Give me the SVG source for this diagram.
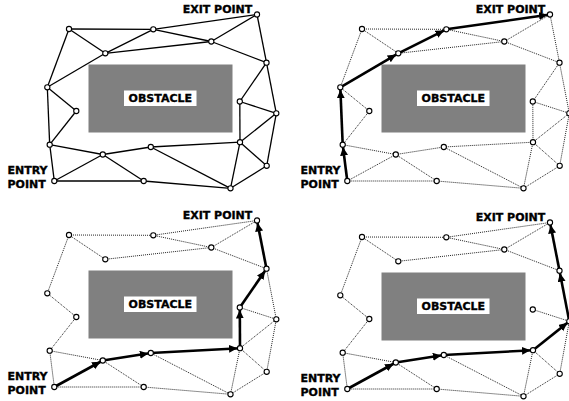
<svg xmlns="http://www.w3.org/2000/svg" xmlns:xlink="http://www.w3.org/1999/xlink" width="569" height="401" viewBox="0 0 569 401">
  <style>
    .bg { fill: #ffffff; }
    .obstacle { fill: #808080; }
    .tag { fill: #ffffff; }
    .label { font-family: "DejaVu Sans", "Liberation Sans", sans-serif; font-weight: bold; font-size: 11px; fill: #000000; stroke: #000000; stroke-width: 0.35; }
    .solid line { stroke: #000000; stroke-width: 1.3; fill: none; }
    .dotted line { stroke: #222222; stroke-width: 1; stroke-dasharray: 1 1; fill: none; }
    .route line { stroke: #000000; stroke-width: 2.6; fill: none; marker-end: url(#arrow); }
    .node circle { fill: #ffffff; stroke: #000000; stroke-width: 1.1; }
  </style>
  <defs>
    <marker id="arrow" markerUnits="userSpaceOnUse" markerWidth="14" markerHeight="10" viewBox="0 0 14 10" refX="11" refY="4" orient="auto">
      <path d="M0,0 L8.5,4 L0,8 Z" fill="#000000"/>
    </marker>
    <!-- obstacle block with its tag, shared by all four panels -->
    <g id="obstacle-block">
      <rect class="obstacle" x="88.5" y="64.5" width="144" height="68"/>
      <rect class="tag" x="124" y="90.5" width="72.5" height="15.5"/>
      <text class="label" x="160.3" y="102.3" text-anchor="middle">OBSTACLE</text>
    </g>
    <g id="end-labels">
      <text class="label" x="182.7" y="12.7">EXIT POINT</text>
      <text class="label" x="7.5" y="174">ENTRY</text>
      <text class="label" x="7.5" y="187.5">POINT</text>
    </g>
  </defs>

  <rect class="bg" x="0" y="0" width="569" height="401"/>

  <!-- Panel 1: full roadmap -->
  <g id="panel-1">
    <use xlink:href="#obstacle-block"/>
    <use xlink:href="#end-labels"/>
    <g id="p1-connectors" class="solid">
      <line x1="69" y1="29" x2="153.3" y2="29.3"/>
      <line x1="69" y1="29" x2="105.3" y2="53.3"/>
      <line x1="69" y1="29" x2="47.3" y2="87.3"/>
      <line x1="153.3" y1="29.3" x2="105.3" y2="53.3"/>
      <line x1="153.3" y1="29.3" x2="211.3" y2="41.5"/>
      <line x1="153.3" y1="29.3" x2="257" y2="14.5"/>
      <line x1="105.3" y1="53.3" x2="211.3" y2="41.5"/>
      <line x1="105.3" y1="53.3" x2="47.3" y2="87.3"/>
      <line x1="211.3" y1="41.5" x2="257" y2="14.5"/>
      <line x1="211.3" y1="41.5" x2="266.5" y2="62.7"/>
      <line x1="257" y1="14.5" x2="266.5" y2="62.7"/>
      <line x1="47.3" y1="87.3" x2="76.3" y2="111"/>
      <line x1="47.3" y1="87.3" x2="49.7" y2="144.7"/>
      <line x1="76.3" y1="111" x2="49.7" y2="144.7"/>
      <line x1="49.7" y1="144.7" x2="102.8" y2="154.5"/>
      <line x1="49.7" y1="144.7" x2="54.3" y2="181"/>
      <line x1="54.3" y1="181" x2="102.8" y2="154.5"/>
      <line x1="54.3" y1="181" x2="143.7" y2="181"/>
      <line x1="102.8" y1="154.5" x2="150.8" y2="147"/>
      <line x1="102.8" y1="154.5" x2="143.7" y2="181"/>
      <line x1="150.8" y1="147" x2="240" y2="142.2"/>
      <line x1="150.8" y1="147" x2="230.5" y2="188.3"/>
      <line x1="143.7" y1="181" x2="230.5" y2="188.3"/>
      <line x1="240" y1="142.2" x2="230.5" y2="188.3"/>
      <line x1="240" y1="142.2" x2="266.7" y2="165.8"/>
      <line x1="266.7" y1="165.8" x2="230.5" y2="188.3"/>
      <line x1="240" y1="142.2" x2="239.8" y2="101.5"/>
      <line x1="240" y1="142.2" x2="276.3" y2="113.3"/>
      <line x1="239.8" y1="101.5" x2="276.3" y2="113.3"/>
      <line x1="239.8" y1="101.5" x2="266.5" y2="62.7"/>
      <line x1="266.5" y1="62.7" x2="276.3" y2="113.3"/>
      <line x1="276.3" y1="113.3" x2="266.7" y2="165.8"/>
    </g>
    <g id="p1-A" class="node"><circle cx="69" cy="29" r="2.6"/></g>
    <g id="p1-B" class="node"><circle cx="153.3" cy="29.3" r="2.6"/></g>
    <g id="p1-C" class="node"><circle cx="257" cy="14.5" r="2.6"/></g>
    <g id="p1-D" class="node"><circle cx="211.3" cy="41.5" r="2.6"/></g>
    <g id="p1-E" class="node"><circle cx="105.3" cy="53.3" r="2.6"/></g>
    <g id="p1-F" class="node"><circle cx="266.5" cy="62.7" r="2.6"/></g>
    <g id="p1-G" class="node"><circle cx="47.3" cy="87.3" r="2.6"/></g>
    <g id="p1-H" class="node"><circle cx="76.3" cy="111" r="2.6"/></g>
    <g id="p1-I" class="node"><circle cx="239.8" cy="101.5" r="2.6"/></g>
    <g id="p1-J" class="node"><circle cx="276.3" cy="113.3" r="2.6"/></g>
    <g id="p1-K" class="node"><circle cx="49.7" cy="144.7" r="2.6"/></g>
    <g id="p1-L" class="node"><circle cx="150.8" cy="147" r="2.6"/></g>
    <g id="p1-M" class="node"><circle cx="240" cy="142.2" r="2.6"/></g>
    <g id="p1-N" class="node"><circle cx="102.8" cy="154.5" r="2.6"/></g>
    <g id="p1-O" class="node"><circle cx="266.7" cy="165.8" r="2.6"/></g>
    <g id="p1-P" class="node"><circle cx="54.3" cy="181" r="2.6"/></g>
    <g id="p1-Q" class="node"><circle cx="143.7" cy="181" r="2.6"/></g>
    <g id="p1-R" class="node"><circle cx="230.5" cy="188.3" r="2.6"/></g>
  </g>

  <!-- Panel 2: route along the upper side -->
  <g id="panel-2" transform="translate(293,0)">
    <use xlink:href="#obstacle-block"/>
    <use xlink:href="#end-labels"/>
    <g id="p2-connectors">
      <g class="dotted">
        <line x1="69" y1="29" x2="153.3" y2="29.3"/>
        <line x1="69" y1="29" x2="105.3" y2="53.3"/>
        <line x1="69" y1="29" x2="47.3" y2="87.3"/>
        <line x1="153.3" y1="29.3" x2="211.3" y2="41.5"/>
        <line x1="105.3" y1="53.3" x2="211.3" y2="41.5"/>
        <line x1="211.3" y1="41.5" x2="257" y2="14.5"/>
        <line x1="211.3" y1="41.5" x2="266.5" y2="62.7"/>
        <line x1="257" y1="14.5" x2="266.5" y2="62.7"/>
        <line x1="47.3" y1="87.3" x2="76.3" y2="111"/>
        <line x1="76.3" y1="111" x2="49.7" y2="144.7"/>
        <line x1="49.7" y1="144.7" x2="102.8" y2="154.5"/>
        <line x1="54.3" y1="181" x2="102.8" y2="154.5"/>
        <line x1="54.3" y1="181" x2="143.7" y2="181"/>
        <line x1="102.8" y1="154.5" x2="150.8" y2="147"/>
        <line x1="102.8" y1="154.5" x2="143.7" y2="181"/>
        <line x1="150.8" y1="147" x2="240" y2="142.2"/>
        <line x1="150.8" y1="147" x2="230.5" y2="188.3"/>
        <line x1="143.7" y1="181" x2="230.5" y2="188.3"/>
        <line x1="240" y1="142.2" x2="230.5" y2="188.3"/>
        <line x1="240" y1="142.2" x2="266.7" y2="165.8"/>
        <line x1="266.7" y1="165.8" x2="230.5" y2="188.3"/>
        <line x1="240" y1="142.2" x2="239.8" y2="101.5"/>
        <line x1="240" y1="142.2" x2="276.3" y2="113.3"/>
        <line x1="239.8" y1="101.5" x2="276.3" y2="113.3"/>
        <line x1="239.8" y1="101.5" x2="266.5" y2="62.7"/>
        <line x1="266.5" y1="62.7" x2="276.3" y2="113.3"/>
        <line x1="276.3" y1="113.3" x2="266.7" y2="165.8"/>
      </g>
      <g class="route">
        <line x1="54.3" y1="181" x2="49.7" y2="144.7"/>
        <line x1="49.7" y1="144.7" x2="47.3" y2="87.3"/>
        <line x1="47.3" y1="87.3" x2="105.3" y2="53.3"/>
        <line x1="105.3" y1="53.3" x2="153.3" y2="29.3"/>
        <line x1="153.3" y1="29.3" x2="257" y2="14.5"/>
      </g>
    </g>
    <g id="p2-A" class="node"><circle cx="69" cy="29" r="2.6"/></g>
    <g id="p2-B" class="node"><circle cx="153.3" cy="29.3" r="2.6"/></g>
    <g id="p2-C" class="node"><circle cx="257" cy="14.5" r="2.6"/></g>
    <g id="p2-D" class="node"><circle cx="211.3" cy="41.5" r="2.6"/></g>
    <g id="p2-E" class="node"><circle cx="105.3" cy="53.3" r="2.6"/></g>
    <g id="p2-F" class="node"><circle cx="266.5" cy="62.7" r="2.6"/></g>
    <g id="p2-G" class="node"><circle cx="47.3" cy="87.3" r="2.6"/></g>
    <g id="p2-H" class="node"><circle cx="76.3" cy="111" r="2.6"/></g>
    <g id="p2-I" class="node"><circle cx="239.8" cy="101.5" r="2.6"/></g>
    <g id="p2-J" class="node"><circle cx="276.3" cy="113.3" r="2.6"/></g>
    <g id="p2-K" class="node"><circle cx="49.7" cy="144.7" r="2.6"/></g>
    <g id="p2-L" class="node"><circle cx="150.8" cy="147" r="2.6"/></g>
    <g id="p2-M" class="node"><circle cx="240" cy="142.2" r="2.6"/></g>
    <g id="p2-N" class="node"><circle cx="102.8" cy="154.5" r="2.6"/></g>
    <g id="p2-O" class="node"><circle cx="266.7" cy="165.8" r="2.6"/></g>
    <g id="p2-P" class="node"><circle cx="54.3" cy="181" r="2.6"/></g>
    <g id="p2-Q" class="node"><circle cx="143.7" cy="181" r="2.6"/></g>
    <g id="p2-R" class="node"><circle cx="230.5" cy="188.3" r="2.6"/></g>
  </g>

  <!-- Panel 3: left links removed, route goes round the lower right -->
  <g id="panel-3" transform="translate(0,206)">
    <use xlink:href="#obstacle-block"/>
    <use xlink:href="#end-labels"/>
    <g id="p3-connectors">
      <g class="dotted">
        <line x1="69" y1="29" x2="153.3" y2="29.3"/>
        <line x1="69" y1="29" x2="105.3" y2="53.3"/>
        <line x1="69" y1="29" x2="47.3" y2="87.3"/>
        <line x1="153.3" y1="29.3" x2="211.3" y2="41.5"/>
        <line x1="153.3" y1="29.3" x2="257" y2="14.5"/>
        <line x1="105.3" y1="53.3" x2="211.3" y2="41.5"/>
        <line x1="211.3" y1="41.5" x2="257" y2="14.5"/>
        <line x1="211.3" y1="41.5" x2="266.5" y2="62.7"/>
        <line x1="47.3" y1="87.3" x2="76.3" y2="111"/>
        <line x1="76.3" y1="111" x2="49.7" y2="144.7"/>
        <line x1="49.7" y1="144.7" x2="102.8" y2="154.5"/>
        <line x1="49.7" y1="144.7" x2="54.3" y2="181"/>
        <line x1="54.3" y1="181" x2="143.7" y2="181"/>
        <line x1="102.8" y1="154.5" x2="143.7" y2="181"/>
        <line x1="150.8" y1="147" x2="230.5" y2="188.3"/>
        <line x1="143.7" y1="181" x2="230.5" y2="188.3"/>
        <line x1="240" y1="142.2" x2="230.5" y2="188.3"/>
        <line x1="240" y1="142.2" x2="266.7" y2="165.8"/>
        <line x1="266.7" y1="165.8" x2="230.5" y2="188.3"/>
        <line x1="240" y1="142.2" x2="276.3" y2="113.3"/>
        <line x1="239.8" y1="101.5" x2="276.3" y2="113.3"/>
        <line x1="266.5" y1="62.7" x2="276.3" y2="113.3"/>
        <line x1="276.3" y1="113.3" x2="266.7" y2="165.8"/>
      </g>
      <g class="route">
        <line x1="54.3" y1="181" x2="102.8" y2="154.5"/>
        <line x1="102.8" y1="154.5" x2="150.8" y2="147"/>
        <line x1="150.8" y1="147" x2="240" y2="142.2"/>
        <line x1="240" y1="142.2" x2="239.8" y2="101.5"/>
        <line x1="239.8" y1="101.5" x2="266.5" y2="62.7"/>
        <line x1="266.5" y1="62.7" x2="257" y2="14.5"/>
      </g>
    </g>
    <g id="p3-A" class="node"><circle cx="69" cy="29" r="2.6"/></g>
    <g id="p3-B" class="node"><circle cx="153.3" cy="29.3" r="2.6"/></g>
    <g id="p3-C" class="node"><circle cx="257" cy="14.5" r="2.6"/></g>
    <g id="p3-D" class="node"><circle cx="211.3" cy="41.5" r="2.6"/></g>
    <g id="p3-E" class="node"><circle cx="105.3" cy="53.3" r="2.6"/></g>
    <g id="p3-F" class="node"><circle cx="266.5" cy="62.7" r="2.6"/></g>
    <g id="p3-G" class="node"><circle cx="47.3" cy="87.3" r="2.6"/></g>
    <g id="p3-H" class="node"><circle cx="76.3" cy="111" r="2.6"/></g>
    <g id="p3-I" class="node"><circle cx="239.8" cy="101.5" r="2.6"/></g>
    <g id="p3-J" class="node"><circle cx="276.3" cy="113.3" r="2.6"/></g>
    <g id="p3-K" class="node"><circle cx="49.7" cy="144.7" r="2.6"/></g>
    <g id="p3-L" class="node"><circle cx="150.8" cy="147" r="2.6"/></g>
    <g id="p3-M" class="node"><circle cx="240" cy="142.2" r="2.6"/></g>
    <g id="p3-N" class="node"><circle cx="102.8" cy="154.5" r="2.6"/></g>
    <g id="p3-O" class="node"><circle cx="266.7" cy="165.8" r="2.6"/></g>
    <g id="p3-P" class="node"><circle cx="54.3" cy="181" r="2.6"/></g>
    <g id="p3-Q" class="node"><circle cx="143.7" cy="181" r="2.6"/></g>
    <g id="p3-R" class="node"><circle cx="230.5" cy="188.3" r="2.6"/></g>
  </g>

  <!-- Panel 4: links at the right of the obstacle removed as well -->
  <g id="panel-4" transform="translate(293,208)">
    <use xlink:href="#obstacle-block"/>
    <use xlink:href="#end-labels"/>
    <g id="p4-connectors">
      <g class="dotted">
        <line x1="69" y1="29" x2="153.3" y2="29.3"/>
        <line x1="69" y1="29" x2="105.3" y2="53.3"/>
        <line x1="69" y1="29" x2="47.3" y2="87.3"/>
        <line x1="153.3" y1="29.3" x2="211.3" y2="41.5"/>
        <line x1="153.3" y1="29.3" x2="257" y2="14.5"/>
        <line x1="105.3" y1="53.3" x2="211.3" y2="41.5"/>
        <line x1="211.3" y1="41.5" x2="257" y2="14.5"/>
        <line x1="211.3" y1="41.5" x2="266.5" y2="62.7"/>
        <line x1="47.3" y1="87.3" x2="76.3" y2="111"/>
        <line x1="76.3" y1="111" x2="49.7" y2="144.7"/>
        <line x1="49.7" y1="144.7" x2="102.8" y2="154.5"/>
        <line x1="49.7" y1="144.7" x2="54.3" y2="181"/>
        <line x1="54.3" y1="181" x2="143.7" y2="181"/>
        <line x1="102.8" y1="154.5" x2="143.7" y2="181"/>
        <line x1="150.8" y1="147" x2="230.5" y2="188.3"/>
        <line x1="143.7" y1="181" x2="230.5" y2="188.3"/>
        <line x1="240" y1="142.2" x2="230.5" y2="188.3"/>
        <line x1="240" y1="142.2" x2="266.7" y2="165.8"/>
        <line x1="266.7" y1="165.8" x2="230.5" y2="188.3"/>
        <line x1="239.8" y1="101.5" x2="276.3" y2="113.3"/>
        <line x1="276.3" y1="113.3" x2="266.7" y2="165.8"/>
      </g>
      <g class="route">
        <line x1="54.3" y1="181" x2="102.8" y2="154.5"/>
        <line x1="102.8" y1="154.5" x2="150.8" y2="147"/>
        <line x1="150.8" y1="147" x2="240" y2="142.2"/>
        <line x1="240" y1="142.2" x2="276.3" y2="113.3"/>
        <line x1="276.3" y1="113.3" x2="266.5" y2="62.7"/>
        <line x1="266.5" y1="62.7" x2="257" y2="14.5"/>
      </g>
    </g>
    <g id="p4-A" class="node"><circle cx="69" cy="29" r="2.6"/></g>
    <g id="p4-B" class="node"><circle cx="153.3" cy="29.3" r="2.6"/></g>
    <g id="p4-C" class="node"><circle cx="257" cy="14.5" r="2.6"/></g>
    <g id="p4-D" class="node"><circle cx="211.3" cy="41.5" r="2.6"/></g>
    <g id="p4-E" class="node"><circle cx="105.3" cy="53.3" r="2.6"/></g>
    <g id="p4-F" class="node"><circle cx="266.5" cy="62.7" r="2.6"/></g>
    <g id="p4-G" class="node"><circle cx="47.3" cy="87.3" r="2.6"/></g>
    <g id="p4-H" class="node"><circle cx="76.3" cy="111" r="2.6"/></g>
    <g id="p4-I" class="node"><circle cx="239.8" cy="101.5" r="2.6"/></g>
    <g id="p4-J" class="node"><circle cx="276.3" cy="113.3" r="2.6"/></g>
    <g id="p4-K" class="node"><circle cx="49.7" cy="144.7" r="2.6"/></g>
    <g id="p4-L" class="node"><circle cx="150.8" cy="147" r="2.6"/></g>
    <g id="p4-M" class="node"><circle cx="240" cy="142.2" r="2.6"/></g>
    <g id="p4-N" class="node"><circle cx="102.8" cy="154.5" r="2.6"/></g>
    <g id="p4-O" class="node"><circle cx="266.7" cy="165.8" r="2.6"/></g>
    <g id="p4-P" class="node"><circle cx="54.3" cy="181" r="2.6"/></g>
    <g id="p4-Q" class="node"><circle cx="143.7" cy="181" r="2.6"/></g>
    <g id="p4-R" class="node"><circle cx="230.5" cy="188.3" r="2.6"/></g>
  </g>
</svg>
